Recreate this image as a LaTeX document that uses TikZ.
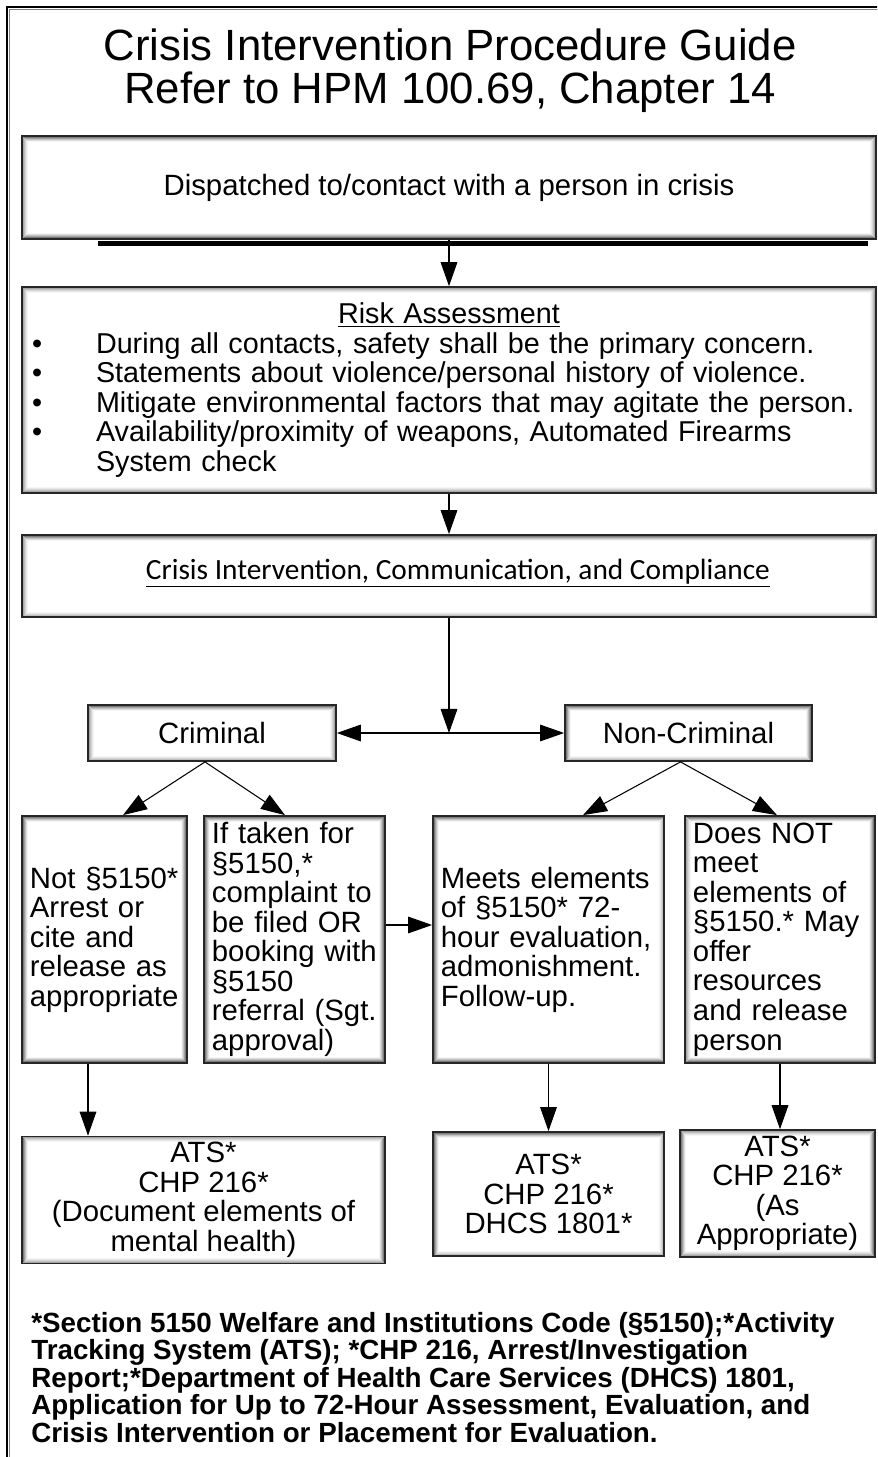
\documentclass[tikz,border=0pt]{standalone}
\usepackage{fontspec}
\setmainfont{Liberation Sans}
\newfontfamily\calfont{Carlito}
\usetikzlibrary{arrows.meta}
\newcommand\titlefont{\fontsize{24.9pt}{24.5pt}\selectfont}
\newcommand\bodyfont{\fontsize{16.7pt}{16.8pt}\selectfont\hyphenpenalty=10000 }
\newcommand\riskfont{\fontsize{16.35pt}{16.8pt}\selectfont\hyphenpenalty=10000 }
\newcommand\notefont{\fontsize{15.8pt}{15.65pt}\selectfont\bfseries}

\begin{document}
\begin{tikzpicture}[x=0.02cm, y=-0.02cm,
    procedure/.style ={draw=black!85, line width=1pt, fill=white, font=\bodyfont,
      path picture={
        \foreach \ins/\opa in {1/0.35,2/0.25,3/0.16,4/0.09,5/0.04}
          \draw[black, opacity=\opa, line width=0.6pt]
            ([shift={(\ins,\ins)}]path picture bounding box.north west) rectangle
            ([shift={(-\ins,-\ins)}]path picture bounding box.south east);}},
    tall/.style ={procedure, minimum height=140.6pt, inner xsep=4.5pt, align=left},
    flow/.style ={line width=0.6pt, -{Triangle[length=13.7pt, width=9.5pt]}},
    twoway/.style ={line width=0.6pt,
      {Triangle[length=13.7pt, width=9.5pt]}-{Triangle[length=13.7pt, width=9.5pt]}}]
   \useasboundingbox (0,0) rectangle (877,1457);
   \clip (0,0) rectangle (877,1457);
   % page frame
   \draw[line width=1.2pt] (7,1470) -- (7,7) -- (890,7);
   \draw[black!50, line width=0.6pt] (9.7,1470) -- (9.7,9.7) -- (890,9.7);

   \node[font=\titlefont, align=center] (title) at (450,71)
     {Crisis Intervention Procedure Guide\\Refer to HPM 100.69, Chapter 14};

   \node[procedure, minimum width=486pt, minimum height=58.6pt] (dispatch) at (449,187.5)
     {Dispatched to/contact with a person in crisis};
   \draw[line width=2.8pt] (98,243.5) -- (868,243.5);

   \node[procedure, font=\riskfont, minimum width=486pt, minimum height=117.2pt, text width=474.6pt,
         inner xsep=5.7pt, align=left] (risk) at (449,390)
     {\makebox[\linewidth]{\underline{Risk Assessment}}\\
      \makebox[36.4pt][l]{\textbullet}During all contacts, safety shall be the primary concern.\\
      \makebox[36.4pt][l]{\textbullet}Statements about violence/personal history of violence.\\
      \makebox[36.4pt][l]{\textbullet}Mitigate environmental factors that may agitate the person.\\
      \makebox[36.4pt][l]{\textbullet}Availability/proximity of weapons, Automated Firearms\\
      \hspace*{36.4pt}System check};

   \node[procedure, minimum width=486pt, minimum height=46.7pt] (cicc) at (449,576)
     {\calfont\raisebox{8pt}{\hspace*{10.2pt}\underline{Crisis Intervention, Communication, and Compliance}}};

   \coordinate (split) at (449,733);
   \node[procedure, minimum width=141.1pt, minimum height=31.9pt] (crim) at (212,733) {Criminal};
   \node[procedure, minimum width=140.6pt, minimum height=31.9pt] (noncrim) at (688.5,733) {Non-Criminal};

   \node[tall, minimum width=93.9pt, text width=84.9pt] (nota) at (104.5,939.5)
     {Not §5150*\\Arrest or\\cite and\\release as\\appropriate};
   \node[tall, minimum width=103pt, text width=94pt] (taken) at (294.5,939.5)
     {If taken for\\§5150,*\\complaint to\\be filed OR\\booking with\\§5150\\referral (Sgt.\\approval)};
   \node[tall, minimum width=131.5pt, text width=122.5pt] (meets) at (548.5,939.5)
     {Meets elements\\of §5150* 72-\\hour evaluation,\\admonishment.\\Follow-up.};
   \node[tall, minimum width=108.1pt, text width=99.1pt] (doesnot) at (780,939.5)
     {Does NOT\\meet\\elements of\\§5150.* May\\offer\\resources\\and release\\person};

   \node[procedure, minimum width=206.6pt, minimum height=70.6pt, align=center] (atsa) at (203.5,1200)
     {ATS*\\CHP 216*\\(Document elements of\\mental health)};
   \node[procedure, minimum width=131.5pt, minimum height=70.6pt, align=center] (atsb) at (548.5,1194)
     {ATS*\\CHP 216*\\DHCS 1801*};
   \node[procedure, minimum width=111pt, minimum height=70pt, align=center] (atsc) at (777.5,1193.5)
     {ATS*\\CHP 216*\\(As\\Appropriate)};

   \node[font=\notefont, align=left, anchor=north west, inner sep=0pt] (note) at (31,1312)
     {*Section 5150 Welfare and Institutions Code (§5150);*Activity\\
      Tracking System (ATS); *CHP 216, Arrest/Investigation\\
      Report;*Department of Health Care Services (DHCS) 1801,\\
      Application for Up to 72-Hour Assessment, Evaluation, and\\
      Crisis Intervention or Placement for Evaluation.};

   \draw[flow] (dispatch) -- (risk);
   \draw[flow] (risk) -- (cicc);
   \draw[flow] (cicc) -- (split);
   \draw[twoway] (crim) -- (noncrim);
   \draw[flow] ([shift={(-7,0)}]crim.south) -- ([shift={(18.5,0)}]nota.north);
   \draw[flow] ([shift={(-7,0)}]crim.south) -- ([shift={(-9.5,0)}]taken.north);
   \draw[flow] ([shift={(-8,0)}]noncrim.south) -- ([shift={(34.5,0)}]meets.north);
   \draw[flow] ([shift={(-8,0)}]noncrim.south) -- ([shift={(-3,0)}]doesnot.north);
   \draw[flow] ([shift={(0,-14.5)}]taken.east) -- ([shift={(0,-14.5)}]meets.west);
   \coordinate (notadown) at ([shift={(-16.5,0)}]nota.south);
   \draw[flow] (notadown) -- (notadown |- atsa.north);
   \draw[flow] (meets.south) -- (atsb.north);
   \draw[flow] (doesnot.south) -- (doesnot.south |- atsc.north);
 \end{tikzpicture}
\end{document}
